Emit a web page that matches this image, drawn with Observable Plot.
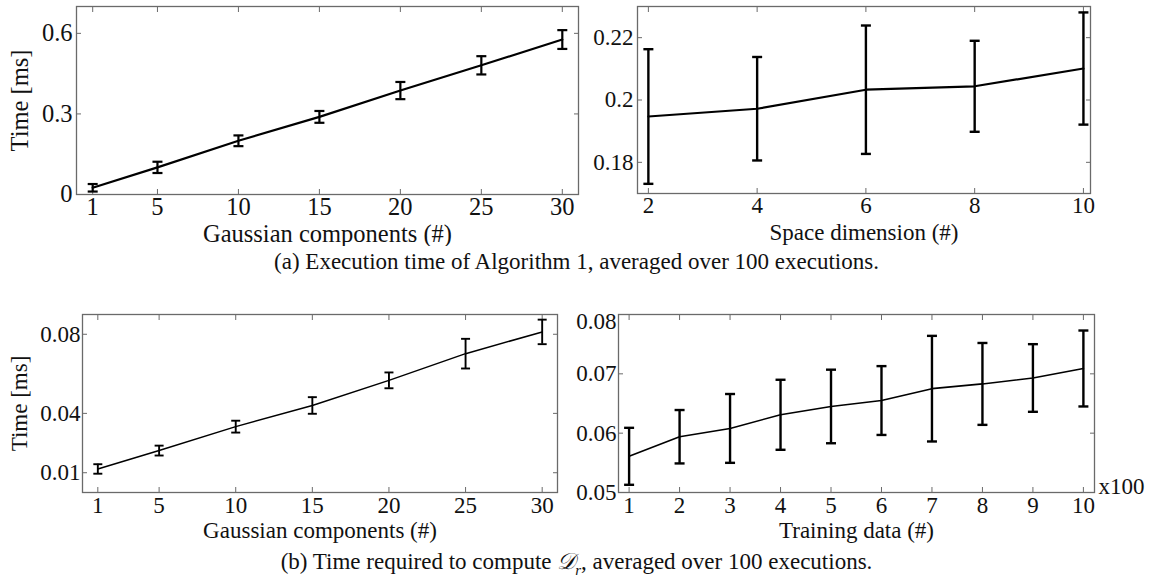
<!DOCTYPE html>
<html>
<head>
<meta charset="utf-8">
<script src="https://cdn.jsdelivr.net/npm/d3@7"></script>
<script src="https://cdn.jsdelivr.net/npm/@observablehq/plot@0.6"></script>
<style>
  body { margin: 0; background: #fff; }
  #fig { position: relative; width: 1153px; height: 579px; overflow: hidden;
         font-family: "Liberation Serif", "Times New Roman", serif; color: #111; }
  #fig svg { position: absolute; }
  .caption { position: absolute; left: 0; width: 1153px; text-align: center; font-size: 23px; line-height: 26px; white-space: nowrap; }
</style>
</head>
<body>
<div id="fig"></div>
<script>
// (a) left: execution time vs number of Gaussian components
const gaussComponents = [1, 5, 10, 15, 20, 25, 30];
const algoTime = [0.025, 0.101, 0.2, 0.289, 0.387, 0.481, 0.577];
const algoTimeErr = [0.014, 0.021, 0.02, 0.022, 0.032, 0.034, 0.035];

// (a) right: execution time vs space dimension
const spaceDims = [2, 4, 6, 8, 10];
const dimTime = [0.1947, 0.1972, 0.2033, 0.2044, 0.2101];
const dimTimeErr = [0.0216, 0.0166, 0.0206, 0.0146, 0.018];

// (b) left: time to compute D_r vs number of Gaussian components
const drTime = [0.0119, 0.0212, 0.0333, 0.044, 0.0567, 0.0702, 0.0812];
const drTimeErr = [0.0024, 0.0025, 0.003, 0.0042, 0.004, 0.0075, 0.0062];

// (b) right: time to compute D_r vs training data (x100)
const trainingData = [1, 2, 3, 4, 5, 6, 7, 8, 9, 10];
const trainTime = [0.0561, 0.0594, 0.0608, 0.0631, 0.0645, 0.0655, 0.0675, 0.0683, 0.0693, 0.0709];
const trainTimeErr = [0.0048, 0.0045, 0.0058, 0.0059, 0.0062, 0.0058, 0.0089, 0.0069, 0.0057, 0.0064];

// tick values
const ticksGaussX = [1, 5, 10, 15, 20, 25, 30];
const ticksA1Y = [0, 0.3, 0.6];
const ticksDimX = [2, 4, 6, 8, 10];
const ticksA2Y = [0.18, 0.2, 0.22];
const ticksB1Y = [0.01, 0.04, 0.08];
const ticksTrainX = [1, 2, 3, 4, 5, 6, 7, 8, 9, 10];
const ticksB2Y = [0.05, 0.06, 0.07, 0.08];

const frameColor = "#6a6a6a";
const inkColor = "#111";

// horizontal cap for error bars
const capSymbol = {
  draw(ctx, size) {
    const r = Math.sqrt(size / Math.PI);
    ctx.moveTo(-r, 0);
    ctx.lineTo(r, 0);
  }
};

function rowsOf(xs, ys, es) {
  return xs.map((x, i) => ({x, y: ys[i], lo: ys[i] - es[i], hi: ys[i] + es[i]}));
}

function panel(o) {
  const rows = rowsOf(o.xs, o.ys, o.es);
  const topShift = o.topLabelShift || 0;
  const yMax = o.yDomain[1];
  const yLabelTicks = topShift ? o.yTicks.filter(d => d < yMax) : o.yTicks;
  const yTopTicks = topShift ? o.yTicks.filter(d => d >= yMax) : [];
  const svg = Plot.plot({
    width: o.width,
    height: o.height,
    marginLeft: o.ml, marginRight: o.mr, marginTop: o.mt, marginBottom: o.mb,
    style: {background: "none", fontFamily: "Liberation Serif, Times New Roman, serif", fontSize: o.fontSize + "px", color: inkColor},
    x: {domain: o.xDomain},
    y: {domain: o.yDomain},
    marks: [
      Plot.frame({stroke: frameColor, strokeWidth: 1.3}),
      // inward ticks on all four sides
      Plot.axisX(o.xTicks, {anchor: "bottom", tickSize: -5, stroke: frameColor, tickFormat: () => "", label: null}),
      Plot.axisX(o.xTicks, {anchor: "top", tickSize: -5, stroke: frameColor, tickFormat: () => "", label: null}),
      Plot.axisY(o.yTicks, {anchor: "left", tickSize: -5, stroke: frameColor, tickFormat: () => "", label: null}),
      Plot.axisY(o.yTicks, {anchor: "right", tickSize: -5, stroke: frameColor, tickFormat: () => "", label: null}),
      // tick labels and axis titles
      Plot.axisX(o.xTicks, {anchor: "bottom", tickSize: 0, tickPadding: o.xPad, tickFormat: d => String(d),
        fill: inkColor, label: o.xLabel, labelAnchor: "center", labelOffset: o.xLabelOffset, labelArrow: "none"}),
      Plot.axisY(yLabelTicks, {anchor: "left", tickSize: 0, tickPadding: o.yPad, tickFormat: d => String(d),
        fill: inkColor, label: o.yLabel ?? null, labelAnchor: "center", labelOffset: o.yLabelOffset ?? 50, labelArrow: "none"}),
      yTopTicks.length
        ? Plot.axisY(yTopTicks, {anchor: "left", tickSize: 0, tickPadding: o.yPad, tickFormat: d => String(d),
            fill: inkColor, label: null, dy: topShift})
        : null,
      // mean curve and error bars
      Plot.line(rows, {x: "x", y: "y", stroke: "#000", strokeWidth: o.lineWidth}),
      Plot.ruleX(rows, {x: "x", y1: "lo", y2: "hi", stroke: "#000", strokeWidth: o.barWidth}),
      Plot.dot(rows, {x: "x", y: "lo", symbol: capSymbol, r: o.capR, stroke: "#000", strokeWidth: o.barWidth, fill: "none"}),
      Plot.dot(rows, {x: "x", y: "hi", symbol: capSymbol, r: o.capR, stroke: "#000", strokeWidth: o.barWidth, fill: "none"}),
      ...(o.extra || [])
    ]
  });
  svg.style.left = o.left + "px";
  svg.style.top = o.top + "px";
  return svg;
}

const fig = document.getElementById("fig");

fig.appendChild(panel({
  left: 0, top: 0, width: 590, height: 246, ml: 76, mr: 12, mt: 6, mb: 52,
  fontSize: 24.5, xPad: 3, yPad: 4,
  xs: gaussComponents, ys: algoTime, es: algoTimeErr,
  xDomain: [0, 31], yDomain: [0, 0.7], xTicks: ticksGaussX, yTicks: ticksA1Y,
  xLabel: "Gaussian components (#)", xLabelOffset: 47, yLabel: "Time [ms]", yLabelOffset: 66,
  lineWidth: 2.2, barWidth: 2.2, capR: 5
}));

fig.appendChild(panel({
  left: 580, top: 0, width: 573, height: 246, ml: 57, mr: 63, mt: 6, mb: 53,
  fontSize: 23, xPad: 3, yPad: 4,
  xs: spaceDims, ys: dimTime, es: dimTimeErr,
  xDomain: [1.8, 10.13], yDomain: [0.17, 0.23], xTicks: ticksDimX, yTicks: ticksA2Y,
  xLabel: "Space dimension (#)", xLabelOffset: 46,
  lineWidth: 2.2, barWidth: 2.4, capR: 5
}));

fig.appendChild(panel({
  left: 0, top: 300, width: 580, height: 246, ml: 82, mr: 23, mt: 14, mb: 54,
  fontSize: 23, xPad: 4, yPad: 2,
  xs: gaussComponents, ys: drTime, es: drTimeErr,
  xDomain: [0, 31], yDomain: [0, 0.09], xTicks: ticksGaussX, yTicks: ticksB1Y,
  xLabel: "Gaussian components (#)", xLabelOffset: 45, yLabel: "Time [ms]", yLabelOffset: 72,
  lineWidth: 1.5, barWidth: 1.9, capR: 4.5
}));

fig.appendChild(panel({
  left: 570, top: 300, width: 583, height: 246, ml: 48, mr: 59, mt: 14, mb: 54,
  fontSize: 23, xPad: 4, yPad: 2, topLabelShift: 7,
  xs: trainingData, ys: trainTime, es: trainTimeErr,
  xDomain: [0.79, 10.22], yDomain: [0.05, 0.08], xTicks: ticksTrainX, yTicks: ticksB2Y,
  xLabel: "Training data (#)", xLabelOffset: 45,
  lineWidth: 1.6, barWidth: 2.4, capR: 5,
  extra: [Plot.text(["x100"], {frameAnchor: "bottom-right", textAnchor: "start", lineAnchor: "middle", dx: 4, dy: -6, fill: inkColor})]
}));

const capA = document.createElement("div");
capA.className = "caption";
capA.style.top = "249px";
capA.textContent = "(a) Execution time of Algorithm 1, averaged over 100 executions.";
fig.appendChild(capA);

const capB = document.createElement("div");
capB.className = "caption";
capB.style.top = "549px";
capB.innerHTML = "(b) Time required to compute <i>𝒟<sub style=\"font-size:15px;line-height:0\">r</sub></i>, averaged over 100 executions.";
fig.appendChild(capB);
</script>
</body>
</html>
